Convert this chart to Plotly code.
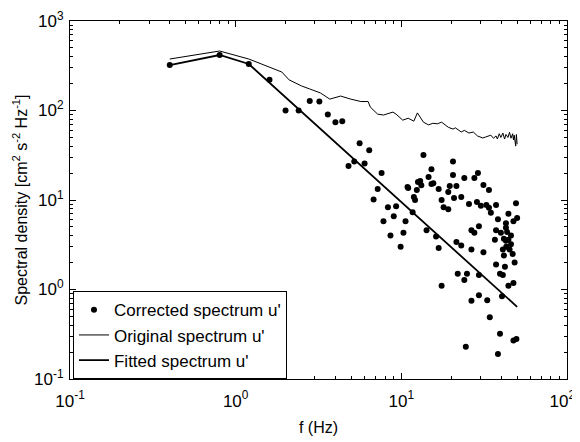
import plotly.graph_objects as go

# Corrected spectrum u' (dots)
corr_f = [0.4, 0.8, 1.2, 1.6, 2.0, 2.4, 2.8, 3.2, 3.6, 4.0, 4.4, 4.8, 5.2, 5.6, 6.0, 6.4, 6.8, 7.2, 7.6,
          7.8, 8.3, 8.6, 9.0, 9.3, 9.9, 10.3, 10.6, 10.9, 11.0, 11.7, 11.9, 12.1, 12.4, 12.6, 13.0, 13.2,
          13.6, 14.2, 14.6, 15.2, 15.2, 15.6, 16.2, 16.8, 16.8, 17.5, 17.5, 18.0, 19.2, 19.2, 19.6, 20.5,
          20.5, 20.8, 21.5, 21.5, 21.9, 23.0, 23.0, 24.0, 24.0, 24.5, 24.9, 25.6, 26.5, 26.5, 26.5, 27.6,
          27.6, 28.6, 29.0, 29.4, 29.4, 29.4, 30.2, 31.3, 31.3, 32.6, 33.0, 33.8, 33.8, 34.2, 34.7, 36.7,
          37.3, 37.3, 37.3, 38.3, 38.3, 39.4, 39.4, 39.9, 40.5, 41.0, 41.0, 41.6, 41.6, 42.2, 42.8, 42.8,
          42.8, 43.0, 43.5, 44.3, 44.3, 44.3, 45.0, 45.9, 45.9, 47.0, 47.5, 47.5, 47.5, 48.3, 49.2, 49.5,
          50.0]
corr_s = [322, 417, 331, 220, 100, 100, 128, 126, 90, 74, 76, 24, 27, 43, 25.6, 36, 10.1, 13.3, 20,
          5.8, 8.3, 4.0, 6.6, 8.5, 3.0, 4.3, 5.8, 14.0, 13.6, 7.3, 10.8, 10.0, 12.9, 15.9, 16.3, 14.6,
          31.8, 4.6, 18.1, 22, 15.1, 15.4, 3.9, 13.3, 2.9, 10.0, 1.1, 8.3, 7.9, 12.3, 14.3, 27.0,
          19.0, 10.5, 14.3, 3.4, 1.5, 10.8, 3.1, 17.6, 1.28, 0.23, 1.5, 9.0, 4.6, 2.8, 0.75, 17.6,
          4.3, 9.5, 20, 5.1, 1.45, 0.86, 8.6, 14.7, 2.6, 8.8, 0.76, 8.2, 12.9, 0.49, 7.2, 3.6,
          8.8, 4.6, 1.9, 6.1, 0.19, 1.5, 0.32, 4.3, 0.84, 1.45, 2.8, 3.7, 2.4, 1.8, 5.5, 4.9,
          3.5, 3.0, 4.4, 7.0, 3.6, 1.1, 2.8, 3.2, 4.0, 2.5, 5.8, 1.18, 0.27, 2.0, 9.2, 0.28,
          6.3]

# Original spectrum u' (thin line)
orig_f = [0.4, 0.8, 1.2, 1.5, 1.9, 2.1, 2.5, 2.8, 3.25, 3.7, 4.3, 4.95, 5.7, 6.3, 6.5, 7.2, 7.8, 8.9,
          9.3, 10.2, 11.0, 11.9, 12.5, 13.6, 14.6, 15.5, 16.5, 17.5, 19.2, 20.5, 21.2, 23.0, 24.0, 25.6,
          27.2, 28.8, 31.0, 32.3, 34.7, 36.0, 37.3, 38.0, 39.0, 39.9, 41.0, 42.0, 42.8, 44.0, 45.0, 45.9,
          47.0, 47.5, 48.0, 49.0, 49.5, 50.0]
orig_s = [376, 462, 376, 322, 269, 220, 188, 174, 157, 134, 145, 134, 126, 126, 109, 91, 89, 96,
          91, 78, 82, 76, 94, 74, 69, 72, 71, 74, 65, 62, 64, 57.5, 60, 56,
          57.5, 52, 49.3, 50.6, 53, 49, 52, 48, 55, 50, 56, 48, 54, 50, 57, 49,
          55, 47, 53, 40, 54, 42]

# Fitted spectrum u' (thick line)
fit_f = [0.4, 0.8, 1.2, 50.0]
fit_s = [322, 417, 331, 0.64]

# Tick labels (trailing no-break spaces keep the last label inside the page)
x_tickvals = [0.1, 1, 10, 100]
x_ticktext = ["10<sup>-1</sup>", "10<sup>0</sup>", "10<sup>1</sup>", "10<sup>2</sup>\u00a0\u00a0"]
y_tickvals = [0.1, 1, 10, 100, 1000]
y_ticktext = ["10<sup>-1</sup>", "10<sup>0</sup>", "10<sup>1</sup>", "10<sup>2</sup>", "10<sup>3</sup>"]

def minor_vals(lo_exp, hi_exp):
    return [m * 10 ** e for e in range(lo_exp, hi_exp) for m in range(2, 10)]

fig = go.Figure()
fig.add_trace(go.Scatter(x=corr_f, y=corr_s, mode="markers", name="Corrected spectrum u'",
                         legendgroup="a", marker=dict(color="black", size=6)))
fig.add_trace(go.Scatter(x=orig_f, y=orig_s, mode="lines", name="Original spectrum u'",
                         legendgroup="b", line=dict(color="black", width=1)))
fig.add_trace(go.Scatter(x=fit_f, y=fit_s, mode="lines", name="Fitted spectrum u'",
                         legendgroup="c", line=dict(color="black", width=1.8)))

font = "Liberation Sans, Arial, sans-serif"
axis_common = dict(type="log", showline=True, linecolor="black", linewidth=1.2, mirror="allticks",
                   ticks="inside", ticklen=6, tickcolor="black", tickmode="array",
                   ticklabeloverflow="allow",
                   showgrid=False, zeroline=False, tickfont=dict(size=17, color="black"))

fig.update_xaxes(range=[-1, 2], tickvals=x_tickvals, ticktext=x_ticktext, ticklabelstandoff=6,
                 minor=dict(ticks="inside", ticklen=3, tickcolor="black", tickmode="array",
                            tickvals=minor_vals(-1, 2), showgrid=False),
                 title=dict(text="f (Hz)", font=dict(size=16, color="black"), standoff=12),
                 **axis_common)
fig.update_yaxes(range=[-1, 3], tickvals=y_tickvals, ticktext=y_ticktext, ticklabelstandoff=2,
                 minor=dict(ticks="inside", ticklen=3, tickcolor="black", tickmode="array",
                            tickvals=minor_vals(-1, 3), showgrid=False),
                 title=dict(text="Spectral density [cm<sup>2</sup> s<sup>-2</sup> Hz<sup>-1</sup>]",
                            font=dict(size=16, color="black"), standoff=2),
                 **axis_common)

# the page body adds an 8px margin; the figure size and margins compensate for it
fig.update_layout(
    width=572, height=434,
    margin=dict(l=62, r=13, t=13, b=63, autoexpand=False),
    paper_bgcolor="white", plot_bgcolor="white",
    font=dict(family=font, color="black"),
    showlegend=True,
    legend=dict(x=0.006, y=0.245, xanchor="left", yanchor="top", bgcolor="white",
                bordercolor="black", borderwidth=1, font=dict(size=17, color="black"),
                itemwidth=30, tracegroupgap=0),
)

fig.write_html("out.html")
